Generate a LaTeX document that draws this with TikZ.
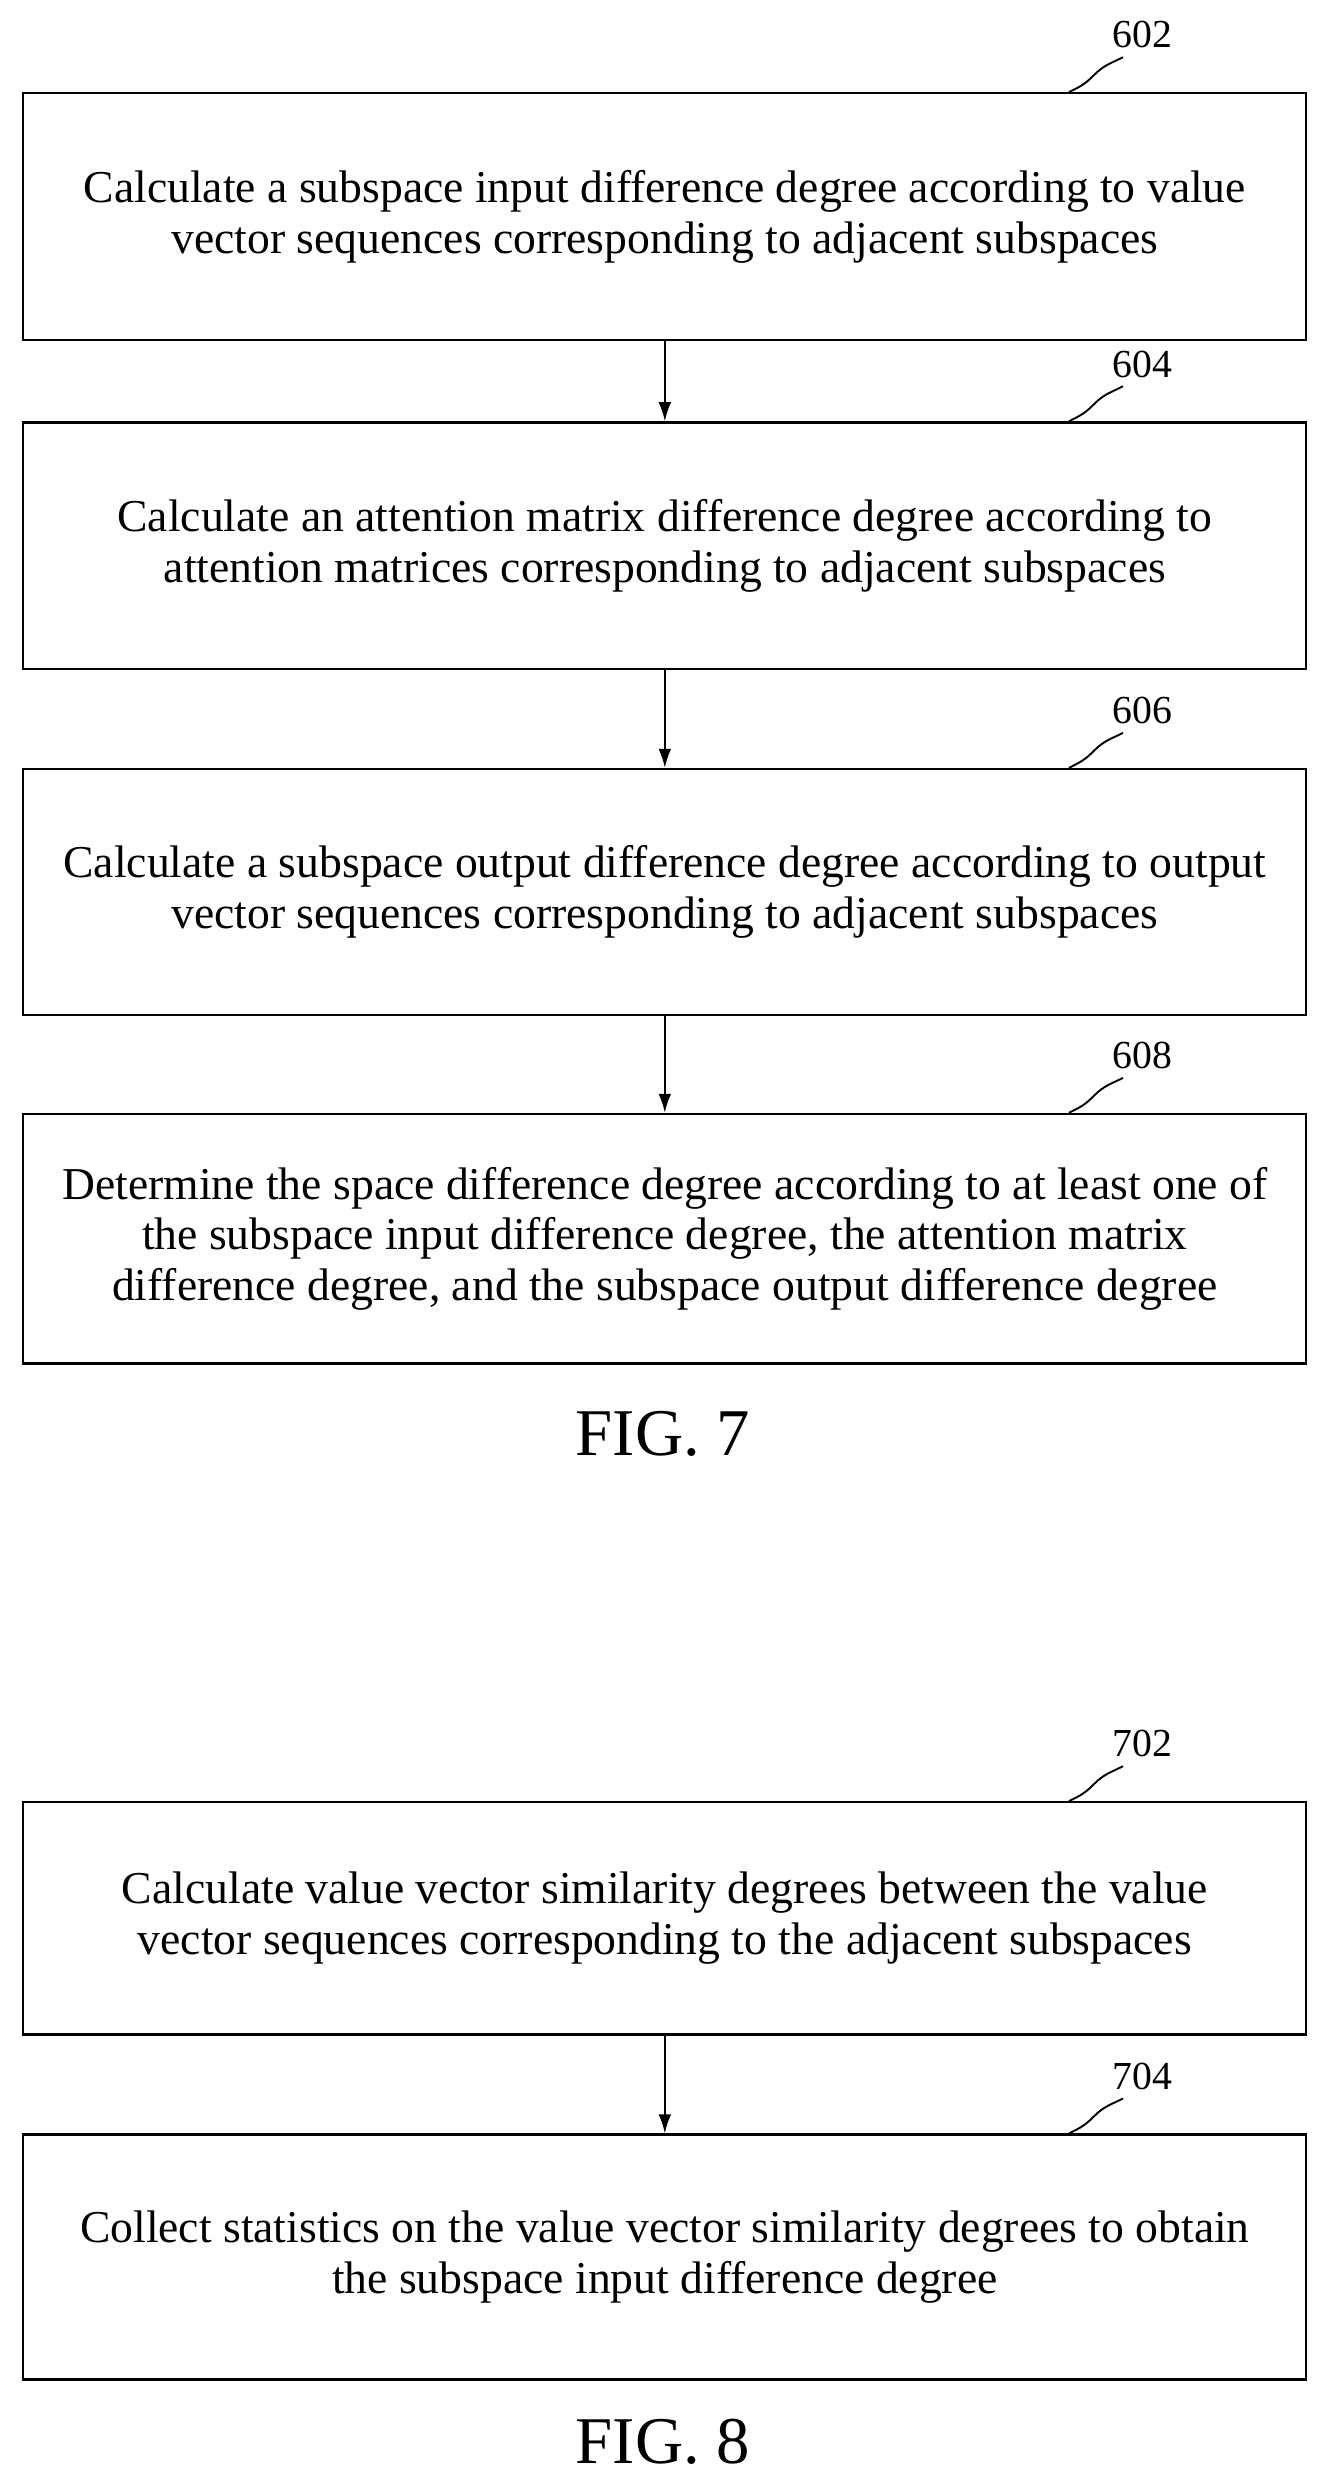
\documentclass[tikz,border=0pt]{standalone}
\usepackage{fontspec}
\setmainfont{Liberation Serif}
\usetikzlibrary{arrows.meta}
\begin{document}
\begin{tikzpicture}[x=1pt,y=-1pt,
box/.style={draw,line width=1.4pt,minimum width=807pt,anchor=north west,inner sep=0pt,align=center,font=\fontsize{28.7}{32}\selectfont},
lab/.style={font=\fontsize{25}{28}\selectfont,anchor=west},
arr/.style={-{Latex[length=12pt,width=8pt]},line width=1.2pt},
fig/.style={font=\fontsize{42}{46}\selectfont}]
\useasboundingbox (0,0) rectangle (831,1560);
\node[box,minimum height=155pt] (b1) at (14,58) {Calculate a subspace input difference degree according to value\\vector sequences corresponding to adjacent subspaces};
\node[box,minimum height=155pt] (b2) at (14,265) {Calculate an attention matrix difference degree according to\\attention matrices corresponding to adjacent subspaces};
\node[box,minimum height=155pt] (b3) at (14,483) {Calculate a subspace output difference degree according to output\\vector sequences corresponding to adjacent subspaces};
\node[box,minimum height=157pt] (b4) at (14,700) {Determine the space difference degree according to at least one of\\the subspace input difference degree, the attention matrix\\difference degree, and the subspace output difference degree};
\node[fig] (f7) at (417,902) {FIG. 7};
\node[box,minimum height=146pt] (b5) at (14,1133) {Calculate value vector similarity degrees between the value\\vector sequences corresponding to the adjacent subspaces};
\node[box,minimum height=154pt] (b6) at (14,1342) {Collect statistics on the value vector similarity degrees to obtain\\the subspace input difference degree};
\node[fig] (f8) at (417,1536) {FIG. 8};
\draw[arr] (b1.south) -- (b2.north);
\draw[arr] (b2.south) -- (b3.north);
\draw[arr] (b3.south) -- (b4.north);
\draw[arr] (b5.south) -- (b6.north);
\foreach \b/\t in {b1/602,b2/604,b3/606,b4/608,b5/702,b6/704}{
  \coordinate (s\b) at ([xshift=-150pt]\b.north east);
  \node[lab] (l\b) at ([xshift=-126pt,yshift=36pt]\b.north east) {\t};
  \draw[line width=1.2pt] (s\b) .. controls +(8,-4) and +(-6,6) .. ++(16,-11) .. controls +(6,-6) and +(-8,4) .. ++(18,-11);
}
\end{tikzpicture}
\end{document}
